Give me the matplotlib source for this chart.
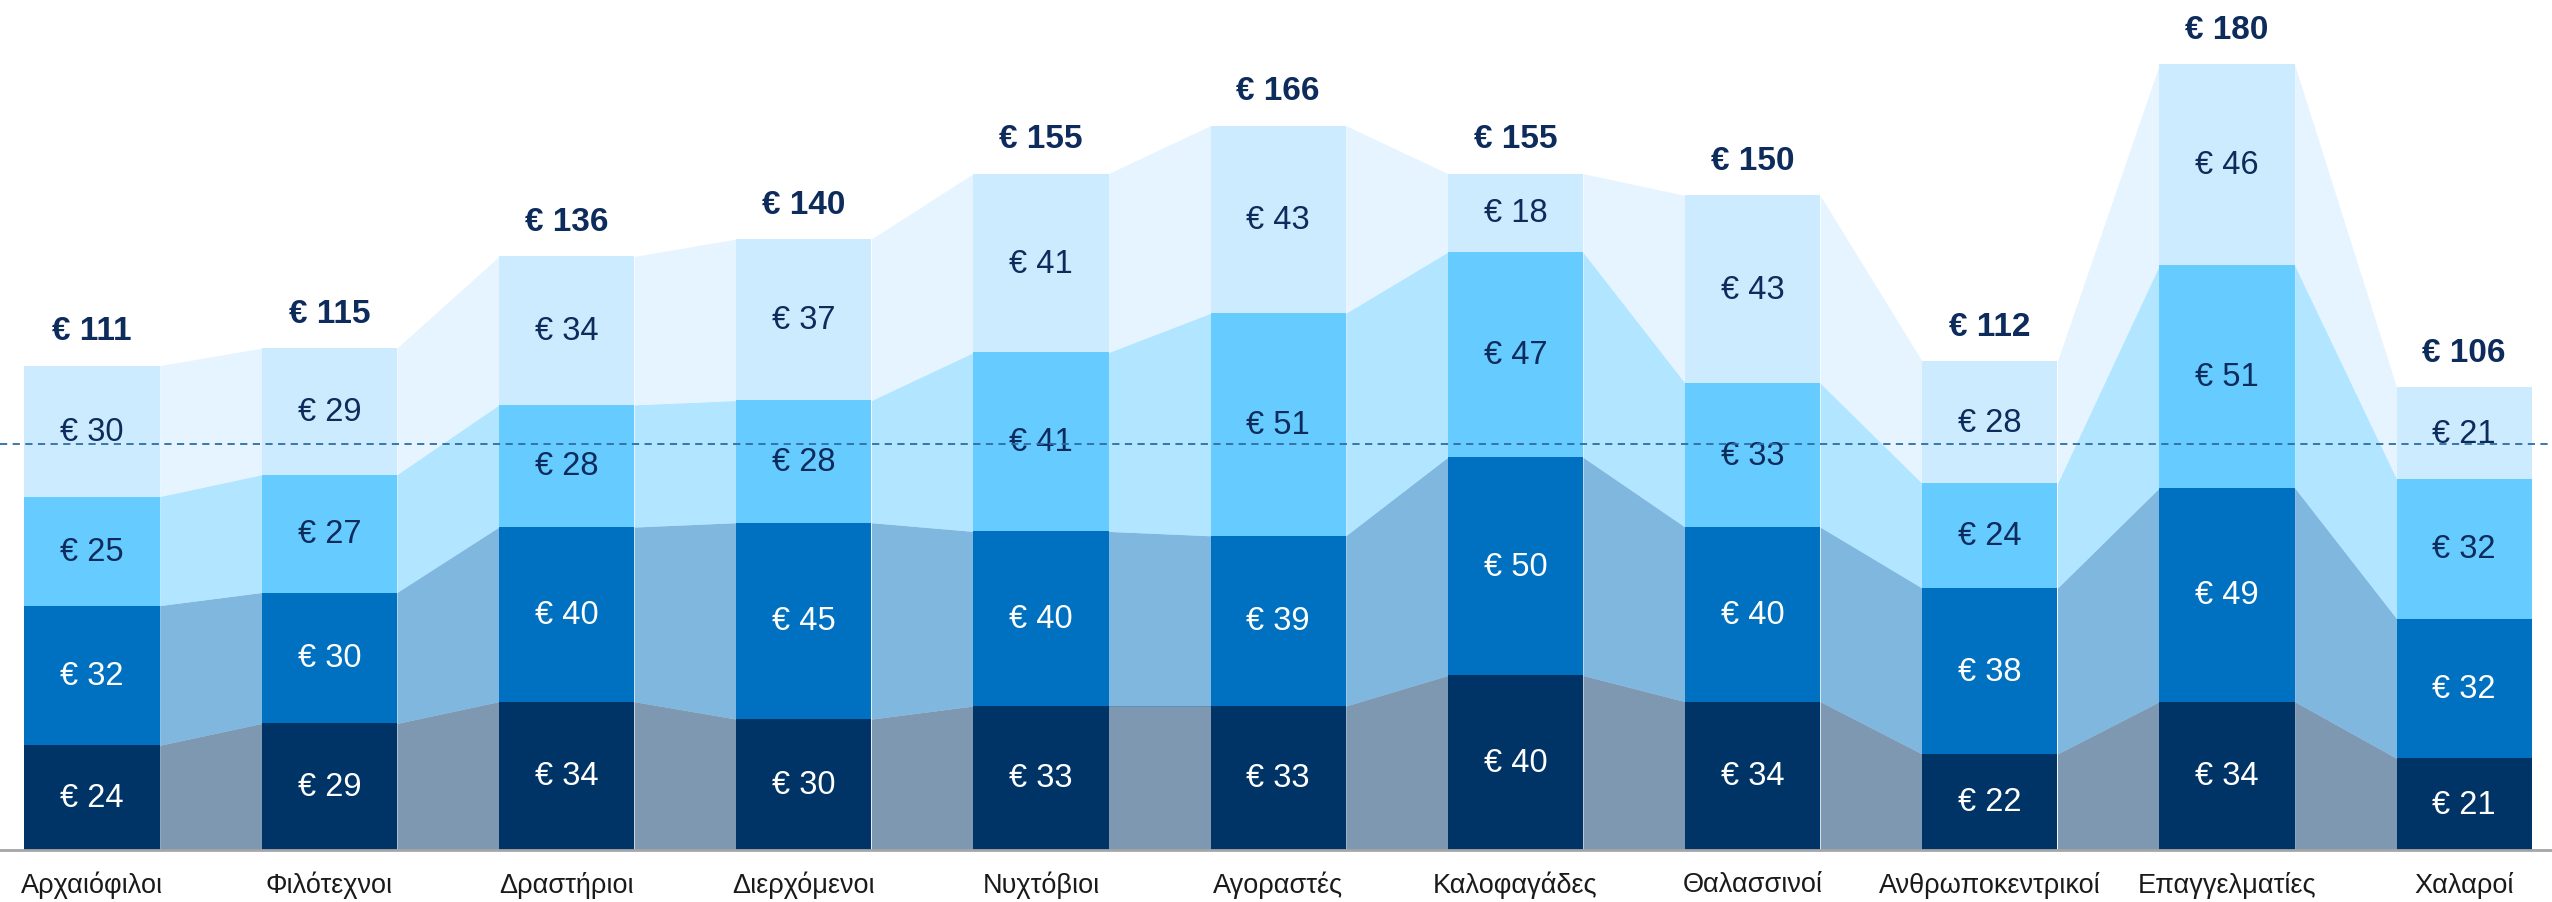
import numpy as np
import matplotlib.pyplot as plt

categories = ["Αρχαιόφιλοι", "Φιλότεχνοι", "Δραστήριοι", "Διερχόμενοι", "Νυχτόβιοι",
              "Αγοραστές", "Καλοφαγάδες", "Θαλασσινοί", "Ανθρωποκεντρικοί",
              "Επαγγελματίες", "Χαλαροί"]
seg1 = [24, 29, 34, 30, 33, 33, 40, 34, 22, 34, 21]
seg2 = [32, 30, 40, 45, 40, 39, 50, 40, 38, 49, 32]
seg3 = [25, 27, 28, 28, 41, 51, 47, 33, 24, 51, 32]
seg4 = [30, 29, 34, 37, 41, 43, 18, 43, 28, 46, 21]
totals = [111, 115, 136, 140, 155, 166, 155, 150, 112, 180, 106]
ref_line = 93

colors = ["#003366", "#0070C0", "#66CCFF", "#CCEBFF"]
text_colors = ["white", "white", "#0D2B5B", "#0D2B5B"]
navy = "#0D2B5B"

plt.rcParams["font.family"] = ["Liberation Sans", "DejaVu Sans"]
fig = plt.figure(figsize=(25.52, 9.03), dpi=100)
ax = fig.add_axes([0, 0.0576, 1, 0.9424])

x = np.arange(len(categories))
width = 0.57
segs = [seg1, seg2, seg3, seg4]
bottom = np.zeros(len(categories))
for seg, col, tc in zip(segs, colors, text_colors):
    seg = np.array(seg)
    top = bottom + seg
    ax.bar(x, seg, width, bottom=bottom, color=col, zorder=2)
    # connecting bands between neighbouring bars
    for i in range(len(x) - 1):
        xs = [x[i] + width / 2, x[i + 1] - width / 2]
        ax.fill_between(xs, [bottom[i], bottom[i + 1]], [top[i], top[i + 1]],
                        color=col, alpha=0.5, lw=0, zorder=1)
    for xi, b, v in zip(x, bottom, seg):
        ax.text(xi, b + v / 2, f"€ {v}", ha="center", va="center",
                fontsize=23.5, color=tc, zorder=3)
    bottom = top

for xi, t in zip(x, totals):
    ax.annotate(f"€ {t}", (xi, t), xytext=(0, 14), textcoords="offset points",
                ha="center", va="bottom", fontsize=24, fontweight="bold", color=navy)

ax.axhline(ref_line, color="#2E6DA4", lw=1.3, ls=(0, (4, 3)), zorder=4)

ax.set_xlim(-0.388, 10.37)
ax.set_ylim(0, 195)
ax.set_yticks([])
ax.set_xticks(x)
ax.set_xticklabels(categories, fontsize=19.5, color="#1A1A1A")
ax.tick_params(axis="x", length=0, pad=15)
for s in ["top", "left", "right"]:
    ax.spines[s].set_visible(False)
ax.spines["bottom"].set_color("#A6A6A6")
ax.spines["bottom"].set_linewidth(2)

fig.savefig("out.png", dpi=100)
